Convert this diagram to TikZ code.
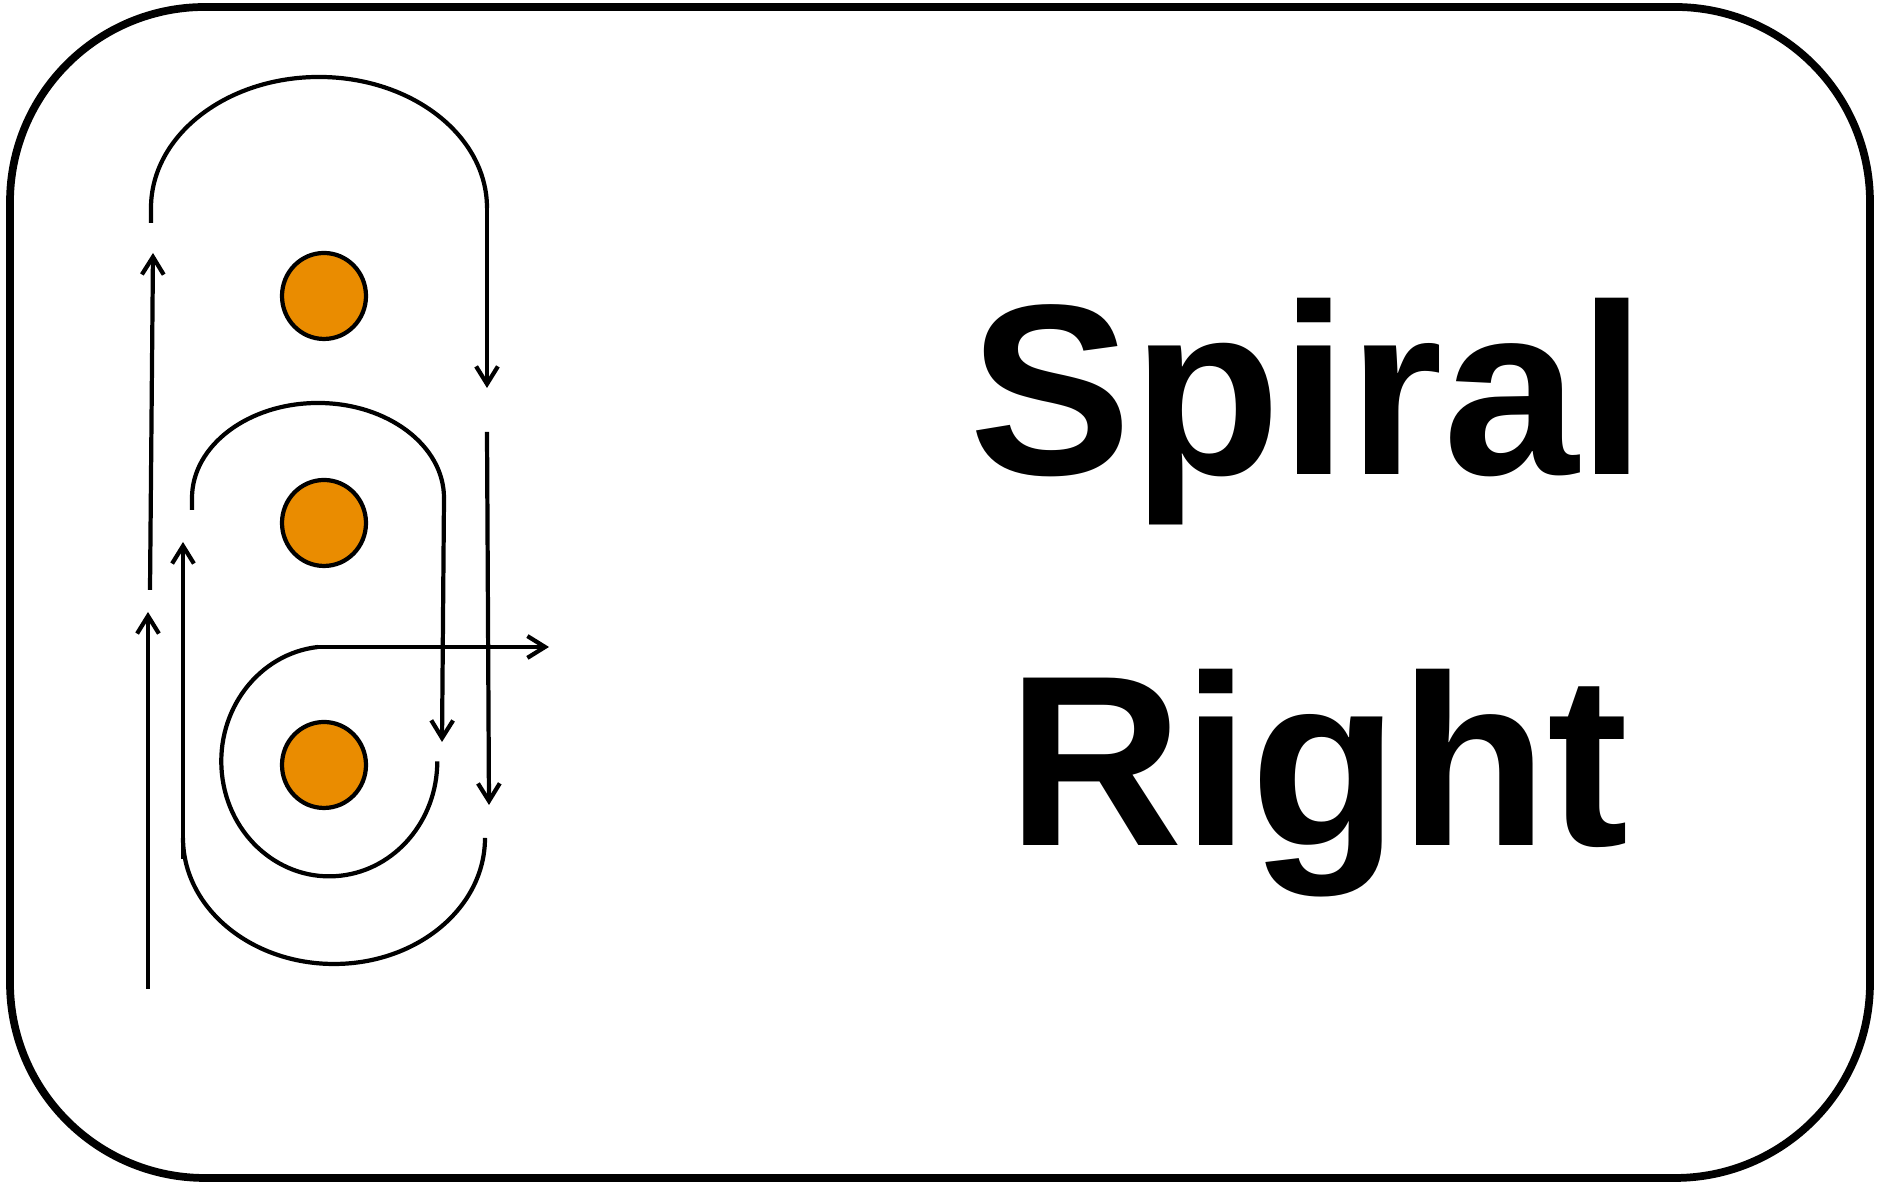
\documentclass[tikz,border=0pt]{standalone}
\usepackage{fontspec}
\setmainfont{Liberation Sans}
\usetikzlibrary{arrows.meta,shapes.geometric}
\definecolor{dotorange}{HTML}{EA8C00}
\begin{document}
\begin{tikzpicture}[x=0.01cm,y=0.01cm,
  wire/.style={line width=1.2pt,black},
  arr/.style={wire,-{Straight Barb[length=5pt,width=6.2pt]}},
  dot/.style={ellipse,draw=black,line width=1.2pt,fill=dotorange,minimum width=84*0.01cm,minimum height=86*0.01cm,inner sep=0pt},
  frame/.style={line width=2.2pt,rounded corners=1.95cm},
  lbl/.style={font=\fontsize{69.2pt}{72pt}\selectfont\bfseries,anchor=base,inner sep=0pt}]
\useasboundingbox (0,0) rectangle (1887,1183);
\draw[frame] (10,5) rectangle (1870,1176);
% dots
\node[dot] (c1) at (324,887) {};
\node[dot] (c2) at (324,660) {};
\node[dot] (c3) at (324,418) {};
% named end points
\coordinate (a1s) at (151,960);
\coordinate (a1e) at (487,975);
\coordinate (a1t) at (487,795);
\coordinate (u1s) at (150,593);
\coordinate (u1t) at (153,930);
\coordinate (a2s) at (192,673);
\coordinate (a2e) at (444,685);
\coordinate (a2t) at (442,441);
\coordinate (r1s) at (487,751);
\coordinate (r1t) at (489,378);
\coordinate (u2s) at (183,324);
\coordinate (u2t) at (183,641);
\coordinate (u3s) at (148,194);
\coordinate (u3t) at (148,571);
\coordinate (hs) at (318,536);
\coordinate (ht) at (549,536);
% top loop
\draw[wire] (a1s) -- (151,975) arc[start angle=180,end angle=0,x radius=168,y radius=131] -- (a1e);
\draw[arr] (a1e) -- (a1t);
\draw[arr] (u1s) -- (u1t);
% second loop
\draw[wire] (a2s) -- (192,685) arc[start angle=180,end angle=0,x radius=126,y radius=95] -- (a2e);
\draw[arr] (a2e) -- (a2t);
\draw[arr] (r1s) -- (r1t);
% inner spiral
\draw[wire] (hs) arc[start angle=96,end angle=360,x radius=108,y radius=115];
\draw[arr] (hs) -- (ht);
% bottom loop
\draw[arr] (u2s) -- (u2t);
\draw[wire] (183,345) arc[start angle=180,end angle=360,x radius=151,y radius=126];
\draw[arr] (u3s) -- (u3t);
% label
\node[lbl] (t1) at (1308,708) {Spiral};
\node[lbl] (t2) at (1318,337) {Right};
\end{tikzpicture}
\end{document}
